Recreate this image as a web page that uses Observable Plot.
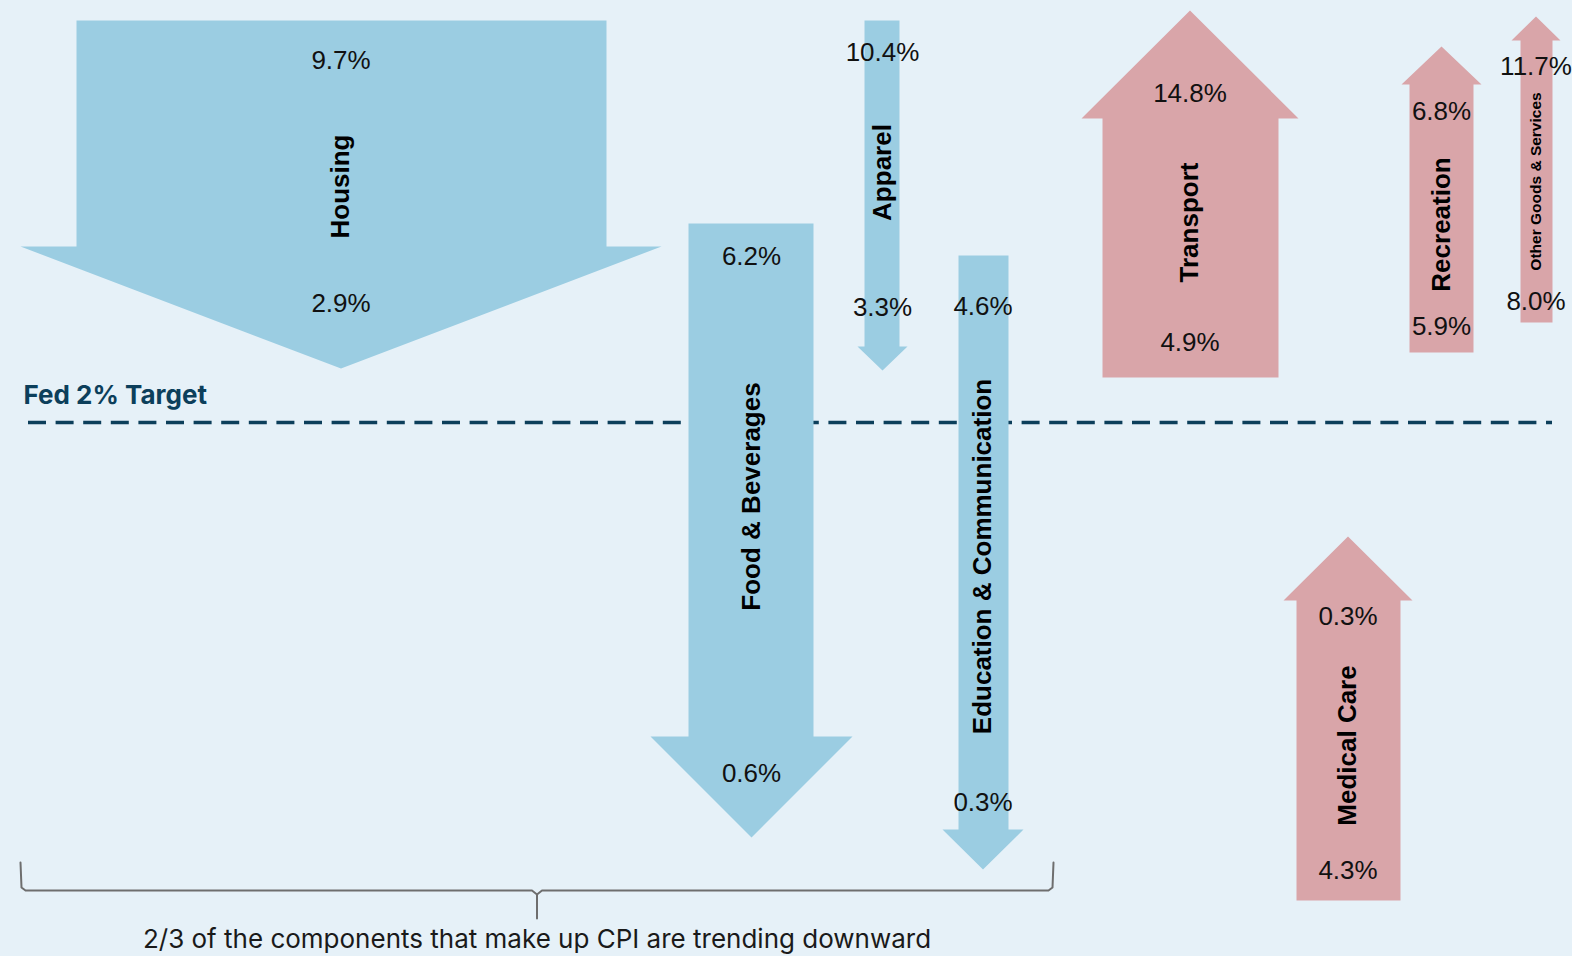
<!DOCTYPE html>
<html>
<head>
<meta charset="utf-8">
<script src="https://cdn.jsdelivr.net/npm/d3@7"></script>
<script src="https://cdn.jsdelivr.net/npm/@observablehq/plot@0.6"></script>
<style>
  html, body { margin: 0; padding: 0; background: #e6f1f8; overflow: hidden; }
  #chart svg { display: block; }
</style>
</head>
<body>
<div id="chart"></div>
<script>
// ---- Data: CPI components, rate at top and bottom of each arrow ----
const categories = ["Housing", "Food & Beverages", "Apparel", "Education & Communication",
                    "Transport", "Medical Care", "Recreation", "Other Goods & Services"];
const direction  = ["down", "down", "down", "down", "up", "up", "up", "up"];
const topLabels    = [9.7, 6.2, 10.4, 4.6, 14.8, 0.3, 6.8, 11.7];
const bottomLabels = [2.9, 0.6, 3.3, 0.3, 4.9, 4.3, 5.9, 8.0];
const fedTarget = "Fed 2% Target";
const caption = "2/3 of the components that make up CPI are trending downward";

// ---- Schematic layout (chart units) ----
const bodyLeft   = [76, 688, 864, 958, 1102, 1296, 1409, 1520];
const bodyRight  = [606, 813, 899, 1008, 1278, 1400, 1473, 1552];
const headLeft   = [20, 650, 857, 942, 1081, 1283, 1401, 1511];
const headRight  = [661, 852, 907, 1023, 1298, 1412, 1481, 1560];
const tailLevel  = [20, 223, 20, 255, 377, 900, 352, 322];
const headBase   = [246, 736, 346, 829, 118, 600, 84, 40];
const tipLevel   = [368, 837, 370, 869, 10, 536, 46, 16];
const topLabelLevel    = [60, 256, 52, 306, 93, 616, 111, 66];
const bottomLabelLevel = [303, 773, 307, 802, 342, 870, 326, 301];
const nameLevel        = [186, 496, 172, 556, 222, 745, 224, 181];
const fedLevel = 422;
const braceSpan = [20, 1053];
const braceLevel = [862, 890, 918];

// ---- Build tables ----
const arrows = categories.map((name, i) => ({
  name, dir: direction[i],
  cx: (headLeft[i] + headRight[i]) / 2,
  topLabel: topLabels[i].toFixed(1) + "%",
  bottomLabel: bottomLabels[i].toFixed(1) + "%",
  topY: topLabelLevel[i], bottomY: bottomLabelLevel[i], nameY: nameLevel[i],
  small: (bodyRight[i] - bodyLeft[i]) < 34
}));
const polys = [];
categories.forEach((name, i) => {
  const cx = (headLeft[i] + headRight[i]) / 2;
  const pts = [
    [bodyLeft[i], tailLevel[i]], [bodyRight[i], tailLevel[i]], [bodyRight[i], headBase[i]],
    [headRight[i], headBase[i]], [cx, tipLevel[i]], [headLeft[i], headBase[i]],
    [bodyLeft[i], headBase[i]], [bodyLeft[i], tailLevel[i]]
  ];
  pts.forEach(([x, y]) => polys.push({name, dir: direction[i], x, y}));
});
const [bL, bR] = braceSpan, bm = (bL + bR) / 2;
const [bTop, bMid, bBot] = braceLevel;
const brace = [
  {z: "l", x: bL, y: bTop}, {z: "l", x: bL + 1, y: bMid - 3}, {z: "l", x: bL + 5, y: bMid},
  {z: "l", x: bm - 5, y: bMid}, {z: "l", x: bm, y: bMid + 4}, {z: "l", x: bm, y: bBot},
  {z: "r", x: bm, y: bMid + 4}, {z: "r", x: bm + 5, y: bMid}, {z: "r", x: bR - 5, y: bMid},
  {z: "r", x: bR - 1, y: bMid - 3}, {z: "r", x: bR, y: bTop}
];

const BLUE = "#9bcde2", RED = "#d9a5a9", NAVY = "#0c3f5b";
const sans = "'Liberation Sans', Arial, Helvetica, sans-serif";
const ui = "Inter, 'Open Sans', Roboto, sans-serif";

const chart = Plot.plot({
  width: 1572, height: 956, margin: 0,
  x: {domain: [0, 1572], range: [0, 1572], axis: null},
  y: {domain: [0, 956], range: [0, 956], axis: null},
  style: {background: "#e6f1f8", fontFamily: sans},
  marks: [
    Plot.ruleY([fedLevel], {x1: 28, x2: 1552, stroke: NAVY, strokeWidth: 3.5, strokeDasharray: "18,9.6"}),
    Plot.text([fedTarget], {x: 23, y: 395, text: d => d, textAnchor: "start", fontSize: 26,
      fontWeight: "bold", fill: NAVY, fontFamily: ui}),
    Plot.line(polys.filter(d => d.dir === "down"), {x: "x", y: "y", z: "name", fill: BLUE, stroke: "none", curve: "linear"}),
    Plot.line(polys.filter(d => d.dir === "up"), {x: "x", y: "y", z: "name", fill: RED, stroke: "none", curve: "linear"}),
    Plot.text(arrows, {x: "cx", y: "topY", text: "topLabel", fontSize: 26, fill: "#111"}),
    Plot.text(arrows, {x: "cx", y: "bottomY", text: "bottomLabel", fontSize: 26, fill: "#111"}),
    Plot.text(arrows.filter(d => !d.small), {x: "cx", y: "nameY", text: "name", rotate: -90,
      fontSize: 26, fontWeight: "bold", fill: "#000"}),
    Plot.text(arrows.filter(d => d.small), {x: "cx", y: "nameY", text: "name", rotate: -90,
      fontSize: 15.5, fontWeight: "bold", fill: "#000"}),
    Plot.line(brace, {x: "x", y: "y", z: "z", stroke: "#6e6e6e", strokeWidth: 2, curve: "linear"}),
    Plot.text([caption], {x: bm, y: 939, text: d => d, fontSize: 26, fill: "#1a1a1a", fontFamily: ui})
  ]
});
document.getElementById("chart").appendChild(chart);
</script>
</body>
</html>
